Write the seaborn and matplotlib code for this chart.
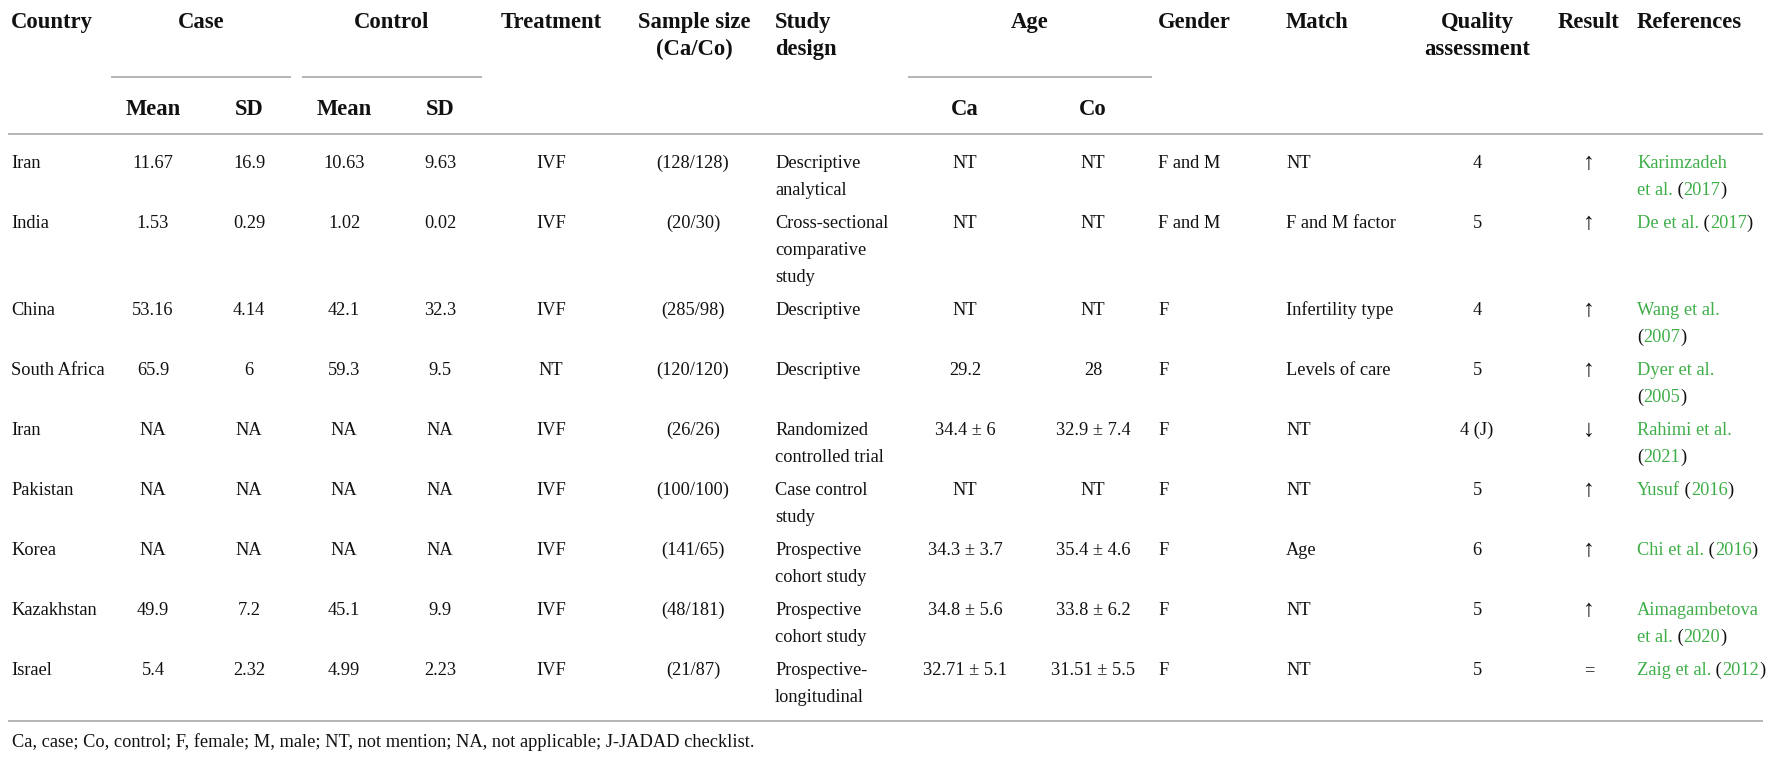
import re
import matplotlib
matplotlib.use("Agg")
import matplotlib.pyplot as plt
import seaborn as sns

# === table data ===
countries = ["Iran", "India", "China", "South Africa", "Iran", "Pakistan",
             "Korea", "Kazakhstan", "Israel"]
case_mean = ["11.67", "1.53", "53.16", "65.9", "NA", "NA", "NA", "49.9", "5.4"]
case_sd = ["16.9", "0.29", "4.14", "6", "NA", "NA", "NA", "7.2", "2.32"]
ctrl_mean = ["10.63", "1.02", "42.1", "59.3", "NA", "NA", "NA", "45.1", "4.99"]
ctrl_sd = ["9.63", "0.02", "32.3", "9.5", "NA", "NA", "NA", "9.9", "2.23"]
treatment = ["IVF", "IVF", "IVF", "NT", "IVF", "IVF", "IVF", "IVF", "IVF"]
sample_size = ["(128/128)", "(20/30)", "(285/98)", "(120/120)", "(26/26)",
               "(100/100)", "(141/65)", "(48/181)", "(21/87)"]
study_design = ["Descriptive\nanalytical", "Cross-sectional\ncomparative\nstudy",
                "Descriptive", "Descriptive", "Randomized\ncontrolled trial",
                "Case control\nstudy", "Prospective\ncohort study",
                "Prospective\ncohort study", "Prospective-\nlongitudinal"]
age_ca = ["NT", "NT", "NT", "29.2", "34.4 ± 6", "NT", "34.3 ± 3.7",
          "34.8 ± 5.6", "32.71 ± 5.1"]
age_co = ["NT", "NT", "NT", "28", "32.9 ± 7.4", "NT", "35.4 ± 4.6",
          "33.8 ± 6.2", "31.51 ± 5.5"]
gender = ["F and M", "F and M", "F", "F", "F", "F", "F", "F", "F"]
match = ["NT", "F and M factor", "Infertility type", "Levels of care", "NT",
         "NT", "Age", "NT", "NT"]
quality = ["4", "5", "4", "5", "4 (J)", "5", "6", "5", "5"]
result = ["↑", "↑", "↑", "↑", "↓", "↑", "↑", "↑", "="]
references = ["Karimzadeh\net al. (2017)", "De et al. (2017)", "Wang et al.\n(2007)",
              "Dyer et al.\n(2005)", "Rahimi et al.\n(2021)", "Yusuf (2016)",
              "Chi et al. (2016)", "Aimagambetova\net al. (2020)",
              "Zaig et al. (2012)"]
footnote = ("Ca, case; Co, control; F, female; M, male; NT, not mention; "
            "NA, not applicable; J-JADAD checklist.")

# === styling ===
sns.set_theme(style="white")
plt.rcParams["font.family"] = ["Liberation Serif", "DejaVu Serif"]
GREEN = "#3fae49"
RULE = "#b4b4b4"
INK = "#111111"
FS = 13.2      # body
HFS = 16.3     # header
LINE = 27      # line spacing (px)
GAP = 6        # extra space between rows

W, H = 1776, 761
fig = plt.figure(figsize=(W / 100, H / 100), dpi=100)
ax = fig.add_axes([0, 0, 1, 1])
ax.set_xlim(0, W)
ax.set_ylim(H, 0)
ax.axis("off")
renderer = fig.canvas.get_renderer()

# columns: (data, x, ha)
columns = [
    (countries, 11, "left"),
    (case_mean, 153, "center"),
    (case_sd, 249, "center"),
    (ctrl_mean, 344, "center"),
    (ctrl_sd, 440, "center"),
    (treatment, 551, "center"),
    (sample_size, 693, "center"),
    (study_design, 775, "left"),
    (age_ca, 965, "center"),
    (age_co, 1093, "center"),
    (gender, 1158, "left"),
    (match, 1286, "left"),
    (quality, 1477, "center"),
]
RES_X = 1589
REF_X = 1637

# === header ===
hdr = dict(fontsize=HFS, fontweight="bold", va="baseline", color=INK)
hy1, hy2, hy_sub = 28, 55, 115
ax.text(11, hy1, "Country", ha="left", **hdr)
ax.text(201, hy1, "Case", ha="center", **hdr)
ax.text(392, hy1, "Control", ha="center", **hdr)
ax.text(551, hy1, "Treatment", ha="center", **hdr)
ax.text(694, hy1, "Sample size", ha="center", **hdr)
ax.text(694, hy2, "(Ca/Co)", ha="center", **hdr)
ax.text(775, hy1, "Study", ha="left", **hdr)
ax.text(775, hy2, "design", ha="left", **hdr)
ax.text(1030, hy1, "Age", ha="center", **hdr)
ax.text(1158, hy1, "Gender", ha="left", **hdr)
ax.text(1286, hy1, "Match", ha="left", **hdr)
ax.text(1477, hy1, "Quality", ha="center", **hdr)
ax.text(1477, hy2, "assessment", ha="center", **hdr)
ax.text(RES_X, hy1, "Result", ha="center", **hdr)
ax.text(REF_X, hy1, "References", ha="left", **hdr)
for lab, x in [("Mean", 153), ("SD", 249), ("Mean", 344), ("SD", 440),
               ("Ca", 965), ("Co", 1093)]:
    ax.text(x, hy_sub, lab, ha="center", **hdr)

# spanning underlines and rules
for x0, x1 in [(111, 291), (302, 482), (908, 1152)]:
    ax.plot([x0, x1], [77, 77], color=RULE, lw=1.4, solid_capstyle="butt")
ax.plot([8, 1763], [134, 134], color=RULE, lw=1.4, solid_capstyle="butt")


# === body ===
def draw_ref(x, y, line):
    # name and year in green, brackets in black
    parts = re.split(r"(\(|\))", line)
    for p in parts:
        if p == "":
            continue
        if p == "(" and x > REF_X:
            p = " ("
            color = INK
        elif p in ("(", ")"):
            color = INK
        else:
            p = p.rstrip()
            color = GREEN
        t = ax.text(x, y, p, fontsize=FS, color=color, ha="left", va="baseline")
        x += t.get_window_extent(renderer).width


y = 162
for i in range(len(countries)):
    nlines = max(len(c[0][i].split("\n")) for c in columns)
    nlines = max(nlines, len(references[i].split("\n")))
    for data, x, ha in columns:
        for k, line in enumerate(data[i].split("\n")):
            ax.text(x, y + 6 + k * LINE, line, fontsize=FS, ha=ha,
                    va="baseline", color=INK)
    arrow = result[i] in ("↑", "↓")
    ax.text(RES_X, y + (7 if arrow else 6), result[i],
            fontsize=17 if arrow else FS, ha="center", va="baseline", color=INK)
    for k, line in enumerate(references[i].split("\n")):
        draw_ref(REF_X, y + 6 + k * LINE, line)
    if i < len(countries) - 1:
        y += nlines * LINE + GAP

bottom = y + LINE + 25
ax.plot([8, 1763], [bottom, bottom], color=RULE, lw=1.4, solid_capstyle="butt")
ax.text(12, bottom + 26, footnote, fontsize=FS, ha="left", va="baseline",
        color=INK)

fig.savefig("out.png", dpi=100)
